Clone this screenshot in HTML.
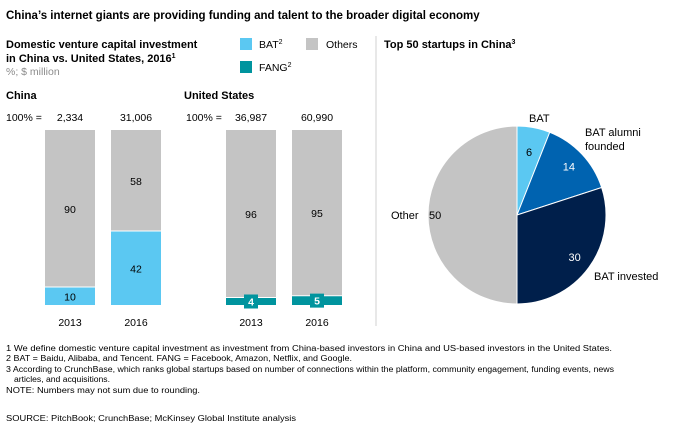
<!DOCTYPE html>
<html><head><meta charset="utf-8"><style>
body{margin:0;background:#fff}
svg{display:block;font-family:"Liberation Sans",Arial,sans-serif}
</style></head><body>
<svg id="c" width="678" height="437" viewBox="0 0 678 437">
<text x="6" y="19" font-size="11.5" font-weight="bold" fill="#000">China’s internet giants are providing funding and talent to the broader digital economy</text>
<text x="6" y="48" font-size="11" font-weight="bold">Domestic venture capital investment</text>
<text x="6" y="62" font-size="11" font-weight="bold">in China vs. United States, 2016<tspan font-size="7" dy="-4">1</tspan></text>
<text x="6" y="75" font-size="10.5" fill="#8c8c8c">%; $ million</text>
<g>
<rect x="240" y="38" width="12" height="12" fill="#5bc8f2"/>
<text x="259" y="48" font-size="10.5">BAT<tspan font-size="7" dy="-4">2</tspan></text>
<rect x="306" y="38" width="12" height="12" fill="#c4c4c4"/>
<text x="326" y="48" font-size="10.5">Others</text>
<rect x="240" y="61" width="12" height="12" fill="#00949e"/>
<text x="259" y="71" font-size="10.5">FANG<tspan font-size="7" dy="-4">2</tspan></text>
</g>
<text x="6" y="99" font-size="11" font-weight="bold">China</text>
<text x="184" y="99" font-size="11" font-weight="bold">United States</text>
<text x="6" y="121" font-size="10.5">100% =</text>
<text x="186" y="121" font-size="10.5">100% =</text>
<line x1="376" y1="36" x2="376" y2="326" stroke="#d0d0d0"/>
<text x="384" y="48" font-size="11" font-weight="bold">Top 50 startups in China<tspan font-size="7" dy="-4">3</tspan></text>
<g id="bars"></g><g id="pie"></g>
<g font-size="8" fill="#000">
<text x="6" y="351" textLength="606" lengthAdjust="spacingAndGlyphs">1  We define domestic venture capital investment as investment from China-based investors in China and US-based investors in the United States.</text>
<text x="6" y="361" textLength="346" lengthAdjust="spacingAndGlyphs">2  BAT = Baidu, Alibaba, and Tencent. FANG = Facebook, Amazon, Netflix, and Google.</text>
<text x="6" y="372" textLength="608" lengthAdjust="spacingAndGlyphs">3  According to CrunchBase, which ranks global startups based on number of connections within the platform, community engagement, funding events, news</text>
<text x="14" y="382" textLength="96" lengthAdjust="spacingAndGlyphs">articles, and acquisitions.</text>
<text x="6" y="393" textLength="194" lengthAdjust="spacingAndGlyphs">NOTE: Numbers may not sum due to rounding.</text>
<text x="6" y="421" textLength="290" lengthAdjust="spacingAndGlyphs">SOURCE:  PitchBook; CrunchBase; McKinsey Global Institute analysis</text>
</g>
</svg>
<script>
const barCategories=["2013","2016","2013","2016"];
const barTotals=["2,334","31,006","36,987","60,990"];
const barBottomValues=[10,42,4,5];
const barOthersValues=[90,58,96,95];
const barBottomKinds=["BAT","BAT","FANG","FANG"];
const pieLabels=["BAT","BAT alumni founded","BAT invested","Other"];
const pieValues=[6,14,30,50];

const NS="http://www.w3.org/2000/svg";
function mk(tag,attrs,parent,txt){const e=document.createElementNS(NS,tag);for(const k in attrs)e.setAttribute(k,attrs[k]);if(txt!=null)e.textContent=txt;parent.appendChild(e);return e;}
const barX=[45,111,226,292],barW=50,baseY=305,fullH=175;
const y=v=>v/100*fullH;
const bg=document.getElementById('bars');
barCategories.forEach((c,i)=>{
  const x=barX[i];const hb=y(barBottomValues[i]);const ho=y(barOthersValues[i]);
  const col=barBottomKinds[i]==="BAT"?"#5bc8f2":"#00949e";
  const r1=mk('rect',{x:x,y:baseY-hb,width:barW,height:hb,fill:col},bg);
  
  
  const r2=mk('rect',{x:x,y:baseY-hb-ho,width:barW,height:ho-1,fill:"#c4c4c4"},bg);
  
  
  const t2=mk('text',{x:x+barW/2,y:baseY-hb-ho/2+4,'font-size':10.5,'text-anchor':'middle'},bg,barOthersValues[i]);
  
  
  if(barBottomKinds[i]==="BAT"){
    const t=mk('text',{x:x+barW/2,y:baseY-hb/2+4,'font-size':10.5,'text-anchor':'middle'},bg,barBottomValues[i]);
    
    
  }else{
    mk('rect',{x:x+barW/2-7,y:baseY-hb/2-7,width:14,height:14,fill:col},bg);
    const t=mk('text',{x:x+barW/2,y:baseY-hb/2+4,'font-size':10.5,'font-weight':'bold',fill:'#fff','text-anchor':'middle'},bg,barBottomValues[i]);
    
    
  }
  const tc=mk('text',{x:x+barW/2,y:326,'font-size':10.5,'text-anchor':'middle'},bg,c);
  
  
  const tt=mk('text',{x:x+barW/2,y:121,'font-size':10.5,'text-anchor':'middle'},bg,barTotals[i]);
  
  
});
const pg=document.getElementById('pie');
const cx=517,cy=215,R=89;
const pieColors=["#5bc8f2","#0063b0","#001f4b","#c4c4c4"];
const total=pieValues.reduce((a,b)=>a+b,0);
let a0=0;
const pt=(a,r)=>[cx+r*Math.sin(a),cy-r*Math.cos(a)];
const inner=[[0,0,'#000'],[0,0,'#fff'],[0,0,'#fff'],[0,0,'#000']];
pieValues.forEach((v,i)=>{
  const a1=a0+v/total*2*Math.PI;
  const [x0,y0]=pt(a0,R),[x1,y1]=pt(a1,R);
  const large=(a1-a0)>Math.PI?1:0;
  const p=mk('path',{d:`M${cx},${cy}L${x0},${y0}A${R},${R} 0 ${large} 1 ${x1},${y1}Z`,fill:pieColors[i],stroke:'#fff','stroke-width':1},pg);
  
  
  const am=(a0+a1)/2;
  const rr=i===0?R*0.72:(i===3?R*0.92:R*0.8);
  const [lx,ly]=pt(am,rr);
  const t=mk('text',{x:lx,y:ly+4,'font-size':11,'text-anchor':'middle',fill:inner[i][2]},pg,pieValues[i]);
  
  
  a0=a1;
});
const extLabels=[[529,122,"BAT"],[585,136,"BAT alumni"],[585,150,"founded"],[594,280,"BAT invested"],[391,219,"Other"]];
extLabels.forEach((l,i)=>{
  const t=mk('text',{x:l[0],y:l[1],'font-size':11},pg,l[2]);
  
  
});
</script>
</body></html>
